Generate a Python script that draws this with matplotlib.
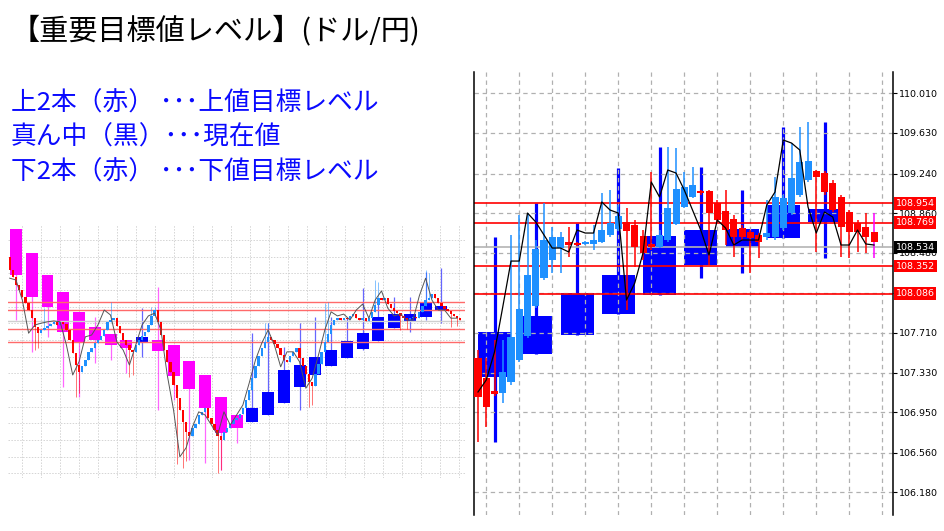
import numpy as np
import matplotlib.pyplot as plt
from matplotlib.transforms import blended_transform_factory

plt.rcParams['font.family'] = ['Noto Sans CJK JP', 'DejaVu Sans']

# ---- texts
title = "【重要目標値レベル】(ドル/円)"
notes = ["上2本（赤） ･･･上値目標レベル",
         "真ん中（黒）･･･現在値",
         "下2本（赤） ･･･下値目標レベル"]

# ---- levels (same on both charts)
upper_levels = [108.954, 108.769]
lower_levels = [108.352, 108.086]
current_level = 108.534
price_ticks = [110.010, 109.630, 109.240, 108.860, 108.480, 108.090,
               107.710, 107.330, 106.950, 106.560, 106.180]
hidden_ticks = [108.090]  # fully covered by the 108.086 label

# ---- right chart: small candles
r_open = [107.469, 107.277, 107.152, 107.133, 107.239, 107.450, 107.680, 107.968, 108.237, 108.410,
          108.525, 108.583, 108.573, 108.564, 108.564, 108.583, 108.650, 108.708, 108.775, 108.746,
          108.640, 108.564, 108.535, 108.602, 108.756, 108.919, 109.015, 109.072, 109.072, 108.957,
          108.880, 108.804, 108.718, 108.679, 108.650, 108.631, 108.631, 108.718, 108.861, 109.034,
          109.178, 109.264, 109.245, 109.149, 109.015, 108.871, 108.765, 108.727, 108.679]
r_close = [107.095, 106.999, 107.124, 107.335, 107.671, 107.940, 108.266, 108.516, 108.602, 108.631,
           108.631, 108.554, 108.554, 108.583, 108.602, 108.698, 108.765, 108.832, 108.688, 108.535,
           108.477, 108.535, 108.650, 108.910, 109.092, 109.111, 109.130, 109.053, 108.861, 108.794,
           108.698, 108.631, 108.631, 108.621, 108.583, 108.669, 109.015, 109.006, 109.197, 109.351,
           109.360, 109.207, 109.063, 108.890, 108.727, 108.679, 108.679, 108.631, 108.583]
r_high = [107.546, 107.469, 107.642, 107.642, 108.650, 108.842, 108.861, 108.602, 108.957, 108.727,
          108.679, 108.727, 108.583, 108.592, 108.746, 109.053, 109.082, 108.938, 108.910, 108.794,
          108.698, 109.255, 108.698, 109.495, 109.485, 109.255, 109.303, 109.082, 109.082, 108.986,
          109.082, 108.842, 108.746, 108.698, 108.669, 108.986, 109.207, 109.034, 109.533, 109.687,
          109.735, 109.274, 109.264, 109.178, 109.034, 108.890, 108.794, 108.861, 108.861]
r_low = [106.663, 106.807, 107.104, 107.037, 107.210, 107.431, 107.661, 107.949, 108.218, 108.285,
         108.285, 108.439, 108.544, 108.554, 108.506, 108.573, 108.631, 108.688, 107.930, 108.343,
         108.410, 108.506, 108.525, 108.583, 108.746, 108.910, 109.006, 109.034, 108.362, 108.775,
         108.554, 108.439, 108.602, 108.285, 108.429, 108.602, 108.602, 108.698, 108.842, 109.015,
         109.159, 108.487, 109.034, 108.871, 108.439, 108.429, 108.487, 108.477, 108.429]
r_line = [107.143, 107.258, 107.527, 107.959, 108.400, 108.400, 108.861, 108.775, 108.650, 108.525,
          108.525, 108.487, 108.698, 108.669, 108.669, 108.967, 108.890, 108.861, 108.026, 108.189,
          108.477, 109.159, 109.015, 109.274, 109.245, 109.082, 108.890, 108.698, 108.458, 108.794,
          108.718, 108.554, 108.602, 108.602, 108.602, 108.938, 109.063, 109.562, 109.533, 109.466,
          108.919, 108.669, 108.871, 108.823, 108.554, 108.554, 108.698, 108.564, 108.554]

# ---- right chart: higher timeframe boxes (one per 5 small candles)
rb_open = [107.287, 107.508, 107.690, 107.892, 108.074, 108.362, 108.535, 108.621, 108.775]
rb_close = [107.719, 107.872, 108.093, 108.266, 108.640, 108.698, 108.708, 108.938, 108.900]
rb_high = [108.631, 108.957, 108.765, 109.293, 109.495, 109.303, 109.082, 109.687, 109.735]
rb_low = [106.663, 107.508, 107.690, 107.892, 108.074, 108.237, 108.285, 108.621, 108.429]

# ---- left chart: small candles (open = previous close)
l_first_open = 109.95
l_close = [109.66, 109.51, 109.33, 109.22, 109.07, 108.93, 108.78, 108.60, 108.41, 108.27,
           108.34, 108.38, 108.43, 108.47, 108.52, 108.45, 108.52, 108.47, 108.34, 108.12,
           107.83, 107.57, 107.42, 107.55, 107.68, 107.86, 107.94, 108.05, 108.12, 108.21,
           108.34, 108.52, 108.56, 108.60, 108.43, 108.27, 108.12, 108.01, 107.90, 107.86,
           108.01, 108.12, 108.21, 108.30, 108.45, 108.65, 108.78, 108.52, 108.23, 107.90,
           107.64, 107.42, 107.13, 106.84, 106.58, 106.32, 106.10, 106.01, 106.18, 106.27,
           106.47, 106.54, 106.62, 106.40, 106.27, 106.14, 106.01, 105.92, 106.10, 106.18,
           106.27, 106.36, 106.40, 106.49, 106.62, 106.80, 107.02, 107.28, 107.55, 107.77,
           107.94, 108.08, 108.19, 108.12, 108.03, 107.94, 107.79, 107.68, 107.64, 107.77,
           107.86, 107.94, 107.72, 107.55, 107.37, 107.20, 107.11, 107.37, 107.59, 107.86,
           108.08, 108.25, 108.45, 108.56, 108.60, 108.56, 108.60, 108.58, 108.65, 108.69,
           108.60, 108.56, 108.60, 108.54, 108.60, 108.74, 108.89, 109.04, 109.00, 109.04,
           108.91, 108.82, 108.76, 108.71, 108.65, 108.60, 108.56, 108.60, 108.63, 108.60,
           108.74, 108.87, 109.00, 109.04, 109.13, 109.04, 108.93, 108.87, 108.80, 108.76,
           108.69, 108.65, 108.60, 108.56]
# notable wick spikes {candle index: price}
l_high_spikes = {11: 108.82, 32: 108.96, 45: 108.85, 46: 108.85, 81: 108.49, 82: 108.49,
                 100: 108.93, 101: 108.96, 116: 109.44, 117: 109.40, 132: 109.66, 133: 109.60}
l_low_spikes = {8: 107.90, 9: 107.95, 21: 106.87, 22: 106.95, 38: 107.31, 39: 107.35,
                53: 105.40, 55: 105.30, 56: 105.45, 66: 105.20, 67: 105.25, 95: 106.65,
                96: 106.70, 124: 108.34, 126: 108.36, 140: 108.41, 142: 108.42}
# thin black line, every 2nd candle
l_line = [109.48, 109.44, 109.00, 108.27, 108.45, 108.49, 108.52, 108.54, 108.52, 108.01,
          107.35, 107.64, 108.19, 108.23, 108.45, 108.78, 108.67, 108.08, 107.90, 107.57,
          108.01, 108.45, 108.65, 108.71, 108.34, 107.35, 106.58, 105.55, 105.75, 106.21,
          106.54, 106.47, 106.25, 106.03, 106.54, 106.25, 106.47, 106.69, 107.17, 107.68,
          108.05, 108.34, 108.01, 107.53, 107.86, 107.86, 107.64, 107.06, 107.28, 107.79,
          108.34, 108.74, 108.65, 108.69, 108.56, 108.78, 108.91, 108.60, 109.00, 109.20,
          108.82, 108.65, 108.69, 108.56, 108.56, 109.09, 109.48, 109.00, 108.78, 108.78,
          108.60, 108.60]
# higher timeframe boxes
lb_open = [110.56, 110.03, 109.55, 109.18, 108.74, 108.41, 108.25, 108.12, 108.05, 108.12,
           108.01, 107.66, 107.35, 106.87, 106.47, 106.32, 106.47, 106.73, 107.09, 107.35,
           107.55, 107.72, 107.92, 108.10, 108.38, 108.54, 108.63, 108.76]
lb_close = [109.55, 109.07, 108.85, 108.30, 108.05, 108.12, 108.01, 107.94, 108.19, 107.88,
            107.33, 107.04, 106.62, 106.07, 106.18, 106.62, 106.98, 107.46, 107.57, 107.75,
            107.90, 108.10, 108.27, 108.63, 108.69, 108.69, 108.93, 108.87]
lb_high = [110.56, 110.03, 109.55, 109.18, 108.74, 108.63, 108.25, 108.12, 108.82, 109.29,
           108.01, 107.66, 107.35, 106.87, 106.47, 108.27, 108.49, 107.97, 108.49, 108.63,
           108.63, 108.60, 109.26, 109.00, 109.07, 109.07, 109.62, 109.70]
lb_low = [108.56, 107.86, 108.19, 107.09, 106.87, 107.61, 107.68, 107.39, 107.75, 106.58,
          106.80, 105.48, 105.41, 105.26, 105.85, 106.32, 106.47, 106.73, 106.58, 107.35,
          107.55, 107.72, 107.90, 108.10, 108.38, 108.30, 108.56, 108.49]

RED = '#ff0000'
LBLUE = '#1e90ff'
DBLUE = '#0000ff'
MAGENTA = '#ff00ff'


def draw_candles(ax, x, o, c, h, l, width, up, dn, wick_lw, min_h, z, wick_colors=None, wick_alpha=1.0):
    o, c, h, l = map(np.asarray, (o, c, h, l))
    cols = np.where(c >= o, up, dn)
    wc = list(cols) if wick_colors is None else wick_colors
    ax.vlines(x, l, h, colors=wc, lw=wick_lw, alpha=wick_alpha, zorder=z)
    body = np.maximum(np.abs(c - o), min_h)
    ax.bar(x, body, width, bottom=np.minimum(o, c), color=list(cols), linewidth=0, zorder=z + 0.1)


fig = plt.figure(figsize=(9.44, 5.31), dpi=100)

fig.text(11 / 944, 1 - 31 / 531, title, fontsize=21, color='black', ha='left', va='center')
for s, yy in zip(notes, [104, 138, 173]):
    fig.text(11 / 944, 1 - yy / 531, s, fontsize=18.5, color='#0a0aff', ha='left', va='center')

# ================= right chart =================
ax = fig.add_axes([474 / 944, 1 - 515 / 531, (893 - 474) / 944, (515 - 72) / 531])
ax.set_xlim(-0.485, 50.3)
ax.set_ylim(105.962, 110.215)

# higher timeframe boxes
bx = 2 + 5 * np.arange(len(rb_open))
ax.vlines(bx, rb_low, rb_high, colors=DBLUE, lw=2.3, zorder=1)
ax.bar(bx, np.abs(np.subtract(rb_close, rb_open)), 4.0, bottom=np.minimum(rb_open, rb_close),
       color=DBLUE, linewidth=0, zorder=1)

# grid (drawn over boxes)
for p in price_ticks:
    ax.axhline(p, color='#b0b0b0', lw=0.9, dashes=(3.5, 3), zorder=1.5)
for gx in 1 + 4 * np.arange(13):
    ax.axvline(gx, color='#b0b0b0', lw=0.9, dashes=(3.5, 3), zorder=1.5)

# levels
for p in upper_levels + lower_levels:
    ax.axhline(p, color=RED, lw=1.2, zorder=2)
ax.axhline(current_level, color='#b4b4b4', lw=1.2, zorder=2)

xs = np.arange(len(r_open))
wcols = [LBLUE if c >= o else RED for o, c in zip(r_open, r_close)]
wcols[-1] = MAGENTA
draw_candles(ax, xs, r_open, r_close, r_high, r_low, 0.85, LBLUE, RED, 1.1, 0.012, 3, wick_colors=wcols)
ax.plot(xs, r_line, color='black', lw=0.9, zorder=4)

ax.spines['top'].set_visible(False)
ax.spines['bottom'].set_visible(False)
ax.spines['left'].set_linewidth(1.1)
ax.spines['right'].set_linewidth(1.1)
ax.set_xticks([])
ax.yaxis.tick_right()
ax.set_yticks(price_ticks)
ax.set_yticklabels(["" if p in hidden_ticks else f"{p:.3f}" for p in price_ticks],
                   fontsize=6.8, family='DejaVu Sans')
ax.tick_params(axis='y', length=3, width=0.8, pad=1.5, direction='out')

tr = blended_transform_factory(ax.transAxes, ax.transData)
for p in upper_levels + lower_levels + [current_level]:
    fc = 'black' if p == current_level else RED
    ax.text(1.006, p, f"{p:.3f}", transform=tr, fontsize=6.8, family='DejaVu Sans', color='white',
            ha='left', va='center', clip_on=False, zorder=6,
            bbox=dict(boxstyle='square,pad=0.2', fc=fc, ec='none'))

# ================= left chart =================
axl = fig.add_axes([8 / 944, 1 - 478 / 531, 457 / 944, 253 / 531])
axl.set_xlim(-0.54, 144.5)
axl.set_ylim(105.084, 110.65)

for p in 110.32 - 0.3667 * np.arange(15):
    axl.axhline(p, color='#d4d4d4', lw=0.7, dashes=(1.5, 1.5), zorder=0.5)
for gx in 4 + 6.03 * np.arange(24):
    axl.axvline(gx, color='#d4d4d4', lw=0.7, dashes=(1.5, 1.5), zorder=0.5)

lbx = 2 + 5 * np.arange(len(lb_open))
lb_cols = [DBLUE if c >= o else MAGENTA for o, c in zip(lb_open, lb_close)]
axl.vlines(lbx, lb_low, lb_high, colors=lb_cols, lw=0.9, alpha=0.6, zorder=1)
axl.bar(lbx, np.abs(np.subtract(lb_close, lb_open)), 3.8, bottom=np.minimum(lb_open, lb_close),
        color=lb_cols, linewidth=0, zorder=1)

for p in upper_levels + lower_levels:
    axl.axhline(p, color='#ff6a6a', lw=1.0, zorder=2)
axl.axhline(current_level, color='#cfcfcf', lw=1.0, zorder=2)

l_open = [l_first_open] + l_close[:-1]
l_high = [max(o, c, l_high_spikes.get(i, 0)) for i, (o, c) in enumerate(zip(l_open, l_close))]
l_low = [min(o, c, l_low_spikes.get(i, 999)) for i, (o, c) in enumerate(zip(l_open, l_close))]
lx = np.arange(len(l_close))
draw_candles(axl, lx, l_open, l_close, l_high, l_low, 0.75, LBLUE, RED, 0.7, 0.02, 3, wick_alpha=0.55)
axl.plot(np.arange(0, len(l_close), 2), l_line, color='#555555', lw=0.7, zorder=4)

axl.set_xticks([])
axl.set_yticks([])
for s in axl.spines.values():
    s.set_visible(False)

fig.savefig('out.png', dpi=100)
